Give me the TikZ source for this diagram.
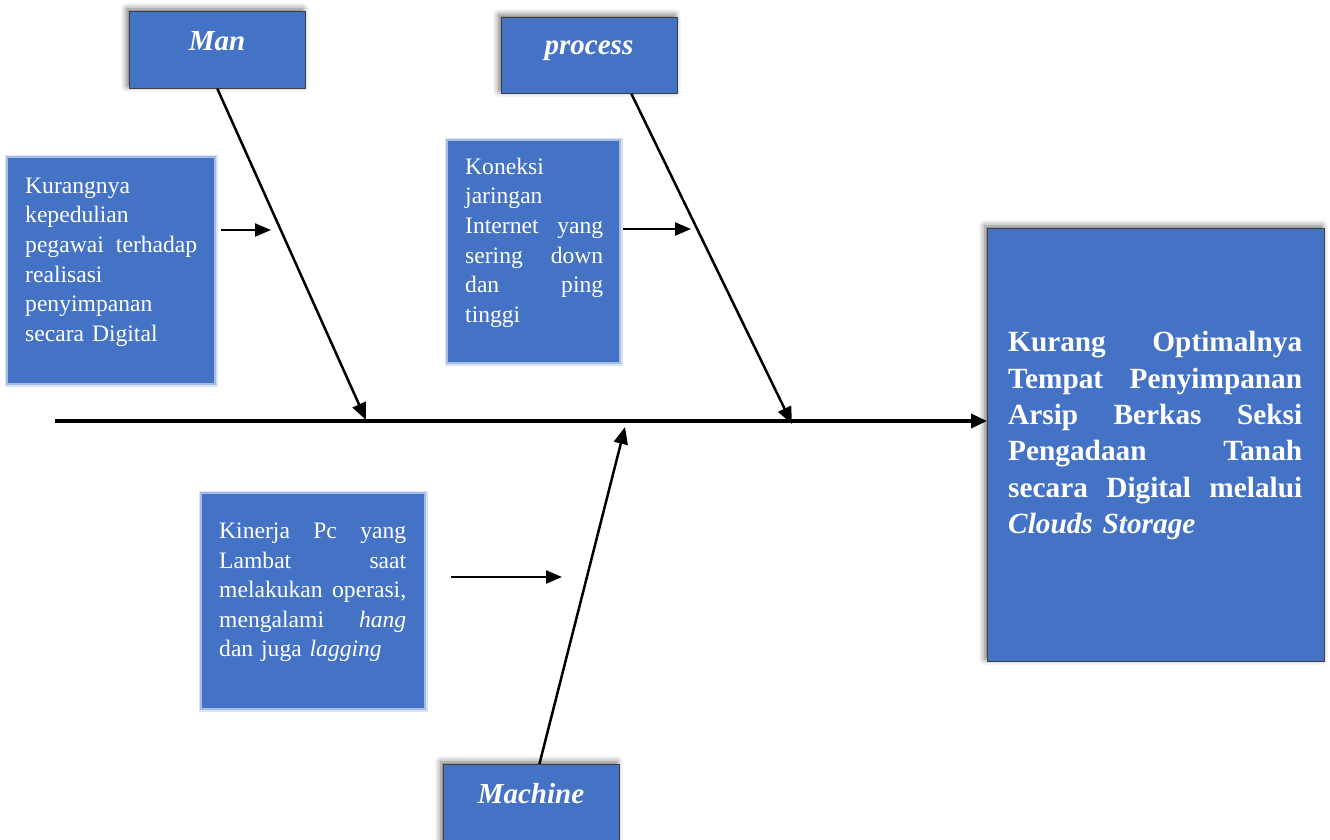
\documentclass[tikz,border=0pt]{standalone}
\usepackage{fontspec}
\setmainfont{Liberation Serif}
\usetikzlibrary{arrows.meta,shadows.blur,calc}
\definecolor{boxblue}{HTML}{4472C4}
\newcommand{\jl}[1]{\leavevmode\hbox to \hsize{#1}}
\begin{document}
\begin{tikzpicture}[x=1pt,y=-1pt,
  framebox/.style={draw=black!75, line width=0.8pt, fill=boxblue, anchor=north west, inner sep=0pt,
    blur shadow={shadow xshift=-2.5pt, shadow yshift=2.5pt, shadow blur radius=6pt, shadow opacity=60}},
  softbox/.style={fill=boxblue, anchor=north west, inner sep=0pt,
    preaction={draw=boxblue, draw opacity=0.2, line width=7pt},
    preaction={draw=boxblue, draw opacity=0.35, line width=3.5pt}},
  labeltext/.style={text=white, anchor=base, inner sep=0pt, font=\fontsize{29}{34}\selectfont\bfseries\itshape},
  smalltext/.style={text=white, anchor=north west, inner sep=0pt, align=left, font=\fontsize{23.6}{29.6}\selectfont},
  bigtext/.style={text=white, anchor=north west, inner sep=0pt, align=left, text width=294pt, font=\fontsize{29.3}{36.3}\selectfont\bfseries},
  bone/.style={line width=2.5pt, -{Triangle[length=17pt,width=14pt]}},
  spine/.style={line width=3.5pt, -{Triangle[length=16pt,width=14pt]}},
  small/.style={line width=2.3pt, -{Triangle[length=16pt,width=13pt]}}
]
\useasboundingbox (0,0) rectangle (1330,839);

% category boxes
\node[framebox, minimum width=176pt, minimum height=77pt] (man) at (129,11) {};
\node[labeltext] (manlbl) at (217,50) {Man};
\node[framebox, minimum width=176pt, minimum height=76pt] (proc) at (501,17) {};
\node[labeltext] (proclbl) at (589,54) {process};
\node[framebox, minimum width=176pt, minimum height=80pt] (mach) at (443,764) {};
\node[labeltext] (machlbl) at (531,803) {Machine};

% effect box
\node[framebox, minimum width=337pt, minimum height=433pt] (eff) at (987,228) {};
\node[bigtext] (efftxt) at (1008,326.3) {\jl{\strut Kurang\hfill Optimalnya}\\\jl{Tempat\hfill Penyimpanan}\\\jl{Arsip\hfill Berkas\hfill Seksi}\\\jl{Pengadaan\hfill Tanah}\\\jl{secara\hfill Digital\hfill melalui}\\\textit{Clouds Storage}};

% cause boxes
\node[softbox, minimum width=206pt, minimum height=225pt] (c1) at (8,158) {};
\node[smalltext, text width=172pt] (c1txt) at (25,172.3) {\strut Kurangnya\\kepedulian\\\jl{pegawai\hfill terhadap}\\realisasi\\penyimpanan\\secara Digital};

\node[softbox, minimum width=171pt, minimum height=221pt] (c2) at (448,141) {};
\node[smalltext, text width=138pt] (c2txt) at (465,153.3) {\strut Koneksi\\jaringan\\\jl{Internet\hfill yang}\\\jl{sering\hfill down}\\\jl{dan\hfill ping}\\tinggi};

\node[softbox, minimum width=222pt, minimum height=214pt] (c3) at (202,494) {};
\node[smalltext, text width=187pt] (c3txt) at (219,517.6) {\jl{\strut Kinerja\hfill Pc\hfill yang}\\\jl{Lambat\hfill saat}\\\jl{melakukan\hfill operasi,}\\\jl{mengalami\hfill\textit{hang}}\\dan juga \textit{lagging}};

% spine
\coordinate (tail) at (55,421);
\draw[spine] (tail) -- (tail -| eff.west);

% bones
\coordinate (j1) at (366,420);
\coordinate (j2) at (792,424);
\coordinate (j3) at (625,427);
\draw[bone] (man.south) -- (j1);
\draw[bone] ([xshift=42pt]proc.south) -- (j2);
\draw[bone] ([xshift=8pt]mach.north) -- (j3);

% small arrows
\coordinate (a1s) at (221,230); \coordinate (a1e) at (271,230);
\coordinate (a2s) at (623,229); \coordinate (a2e) at (691,229);
\coordinate (a3s) at (451,577); \coordinate (a3e) at (562,577);
\draw[small] (a1s) -- (a1e);
\draw[small] (a2s) -- (a2e);
\draw[small] (a3s) -- (a3e);
\end{tikzpicture}
\end{document}
